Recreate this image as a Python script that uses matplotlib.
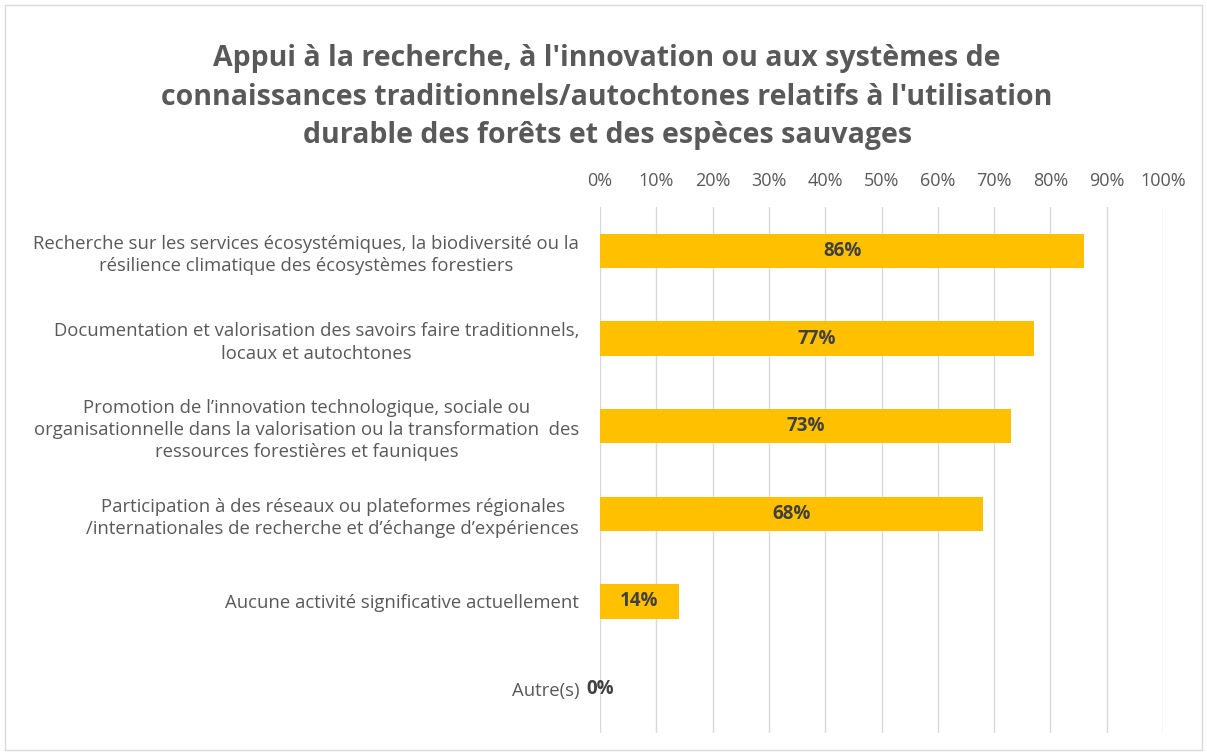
import matplotlib.pyplot as plt
from matplotlib.patches import Rectangle

categories = [
    "Recherche sur les services écosystémiques, la biodiversité ou la\nrésilience climatique des écosystèmes forestiers",
    "Documentation et valorisation des savoirs faire traditionnels,\nlocaux et autochtones",
    "Promotion de l’innovation technologique, sociale ou\norganisationnelle dans la valorisation ou la transformation  des\nressources forestières et fauniques",
    "Participation à des réseaux ou plateformes régionales\n/internationales de recherche et d’échange d’expériences",
    "Aucune activité significative actuellement",
    "Autre(s)",
]
values = [86, 77, 73, 68, 14, 0]
ticks = list(range(0, 101, 10))

title = ("Appui à la recherche, à l'innovation ou aux systèmes de\n"
         "connaissances traditionnels/autochtones relatifs à l'utilisation\n"
         "durable des forêts et des espèces sauvages")

plt.rcParams['font.family'] = ['Open Sans', 'DejaVu Sans']

fig = plt.figure(figsize=(12.07, 7.53), dpi=100)
fig.patches.append(Rectangle((0.004, 0.004), 0.992, 0.99, transform=fig.transFigure,
                             fill=False, edgecolor='#d9d9d9', linewidth=1))

ax = fig.add_axes([600 / 1207, 20 / 753, 563 / 1207, 526 / 753])

y = list(range(len(categories)))
ax.barh(y, values, height=0.39, color='#ffc000', zorder=3)
ax.set_ylim(len(categories) - 0.5, -0.5)
ax.set_xlim(0, 100)

ax.set_xticks(ticks)
ax.set_xticklabels([f"{t}%" for t in ticks], fontsize=13, color='#595959')
ax.xaxis.tick_top()
ax.tick_params(axis='x', length=0, pad=12)
ax.grid(axis='x', color='#d9d9d9', linewidth=1, zorder=0)

ax.set_yticks(y)
ax.set_yticklabels(categories, fontsize=13.3, color='#595959', ha='right',
                   multialignment='center', linespacing=1.3)
ax.tick_params(axis='y', length=0, pad=15)

for s in ax.spines.values():
    s.set_visible(False)

for yi, v in zip(y, values):
    ax.text(v / 2, yi, f"{v}%", ha='center', va='center', fontsize=13.5,
            fontweight='bold', color='#404040', zorder=4)

fig.text(0.503, 0.871, title, ha='center', va='center', fontsize=20.5,
         fontweight='bold', color='#595959', linespacing=1.42)

fig.savefig("out.png", dpi=100)
